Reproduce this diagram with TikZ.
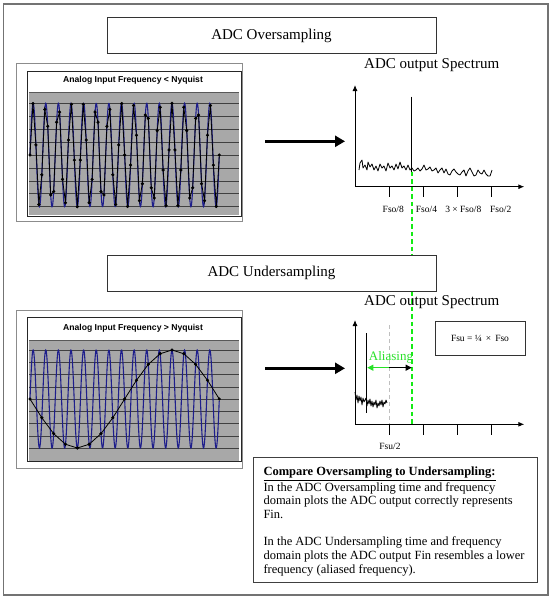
\documentclass[tikz,border=0pt]{standalone}
\usepackage{fontspec}
\setmainfont{Liberation Serif}
\newfontfamily\chartfont{Liberation Sans}
\usetikzlibrary{arrows.meta}
\definecolor{plotgray}{RGB}{168,168,168}
\definecolor{wavenavy}{RGB}{30,30,140}
\definecolor{aliasgreen}{RGB}{40,225,40}
\definecolor{dashgreen}{RGB}{20,235,20}
\begin{document}
\begin{tikzpicture}[x=1pt,y=-1pt,
  titlebox/.style={draw=black!80, fill=white, line width=0.9pt, minimum width=329pt, minimum height=36pt, inner sep=0pt, font=\fontsize{15}{18}\selectfont},
  spectitle/.style={inner sep=0pt, font=\fontsize{15}{18}\selectfont},
  charttitle/.style={inner sep=0pt, font=\chartfont\bfseries\fontsize{8.6}{10}\selectfont},
  outerframe/.style={draw=black!45, line width=0.8pt},
  innerframe/.style={draw=black!85, line width=0.8pt},
  gridline/.style={draw=black!75, line width=0.7pt},
  wave/.style={draw=wavenavy, line width=1.1pt},
  samp/.style={draw=black, line width=0.8pt},
  axisline/.style={draw=black, line width=0.9pt, -{Latex[length=6pt,width=5pt]}},
  tickline/.style={draw=black, line width=0.9pt},
  ticklabel/.style={inner sep=0pt, font=\fontsize{9.5}{11}\selectfont},
  noise/.style={draw=black, line width=0.8pt, line join=round},
  bigarrow/.style={draw=black, line width=3pt, -{Triangle[length=10pt,width=11pt]}},
  greendash/.style={draw=dashgreen, line width=1.6pt, dash pattern=on 4.5pt off 3pt},
  graydash/.style={draw=black!25, line width=0.9pt, dash pattern=on 4pt off 3pt},
  smallbox/.style={draw=black!80, line width=0.9pt, minimum width=90pt, minimum height=34pt, inner sep=0pt, font=\fontsize{9.5}{11}\selectfont},
  textbox/.style={draw=black!75, line width=1.1pt, minimum width=284pt, minimum height=125pt, inner sep=0pt},
  bodytext/.style={inner sep=0pt, align=left, font=\fontsize{12.5}{13.7}\selectfont}
]
\useasboundingbox (0,0) rectangle (552,600);

% outer frame
\draw[black!55, line width=1.2pt] (3.5,4) rectangle (548,595);

% green dashed alias line (behind title box)
\coordinate (gtop) at (411.7,171.7);
\coordinate (gbot) at (411.7,424.3);
\draw[greendash] (gtop) -- (gbot);

% title boxes
\node[titlebox] (t1) at (271.5,35.5) {ADC Oversampling};
\node[titlebox] (t2) at (271.5,273) {ADC Undersampling};

% ---------- chart 1 ----------
\draw[outerframe] (16,63) rectangle (242.5,221);
\draw[innerframe] (27,71) rectangle (241,216);
\fill[plotgray] (29,92) rectangle (239,215.2);
\draw[black!65, line width=0.7pt] (29,92) -- (239,92);
\foreach \g in {0,...,8} \draw[gridline] (29,103.5+12.9*\g) -- (239,103.5+12.9*\g);
\node[charttitle] (ct1) at (133,80) {Analog Input Frequency < Nyquist};
\draw[wave] plot[domain=0:1, samples=600] ({30+189.3*\x},{155-51.7*sin(5400*\x)});
\draw[samp] plot[domain=0:1, samples=65] ({30+189.3*\x},{155-51.7*sin(5400*\x)});
\draw[black] plot[domain=0:1, samples=65, only marks, mark=*, mark size=1.4pt] ({30+189.3*\x},{155-51.7*sin(5400*\x)});

% ---------- chart 2 ----------
\draw[outerframe] (16,310.7) rectangle (242.5,468);
\draw[innerframe] (27,317.7) rectangle (241,461.7);
\fill[plotgray] (29,340) rectangle (239,460.5);
\draw[black!65, line width=0.7pt] (29,340) -- (239,340);
\foreach \g in {0,...,8} \draw[gridline] (29,350+12.29*\g) -- (239,350+12.29*\g);
\node[charttitle] (ct2) at (133,328.3) {Analog Input Frequency > Nyquist};
\draw[wave] plot[domain=0:1, samples=600] ({30+189.3*\x},{399-49*sin(5400*\x)});
\draw[samp] plot[domain=0:1, samples=17] ({30+189.3*\x},{399-49*sin(5400*\x)});
\draw[black] plot[domain=0:1, samples=17, only marks, mark=*, mark size=1.4pt] ({30+189.3*\x},{399-49*sin(5400*\x)});

% ---------- big arrows ----------
\coordinate (a1s) at (265,141.3);
\coordinate (a1e) at (345,141.3);
\draw[bigarrow] (a1s) -- (a1e);
\coordinate (a2s) at (265,368.3);
\coordinate (a2e) at (345,368.3);
\draw[bigarrow] (a2s) -- (a2e);

% ---------- spectrum 1 ----------
\node[spectitle] (s1) at (431.7,65) {ADC output Spectrum};
\coordinate (o1) at (355,186.7);
\coordinate (y1) at (355,85);
\coordinate (x1) at (524.3,186.7);
\draw[axisline] (o1) -- (y1);
\draw[axisline] (o1) -- (x1);
\foreach \tx in {389.3,423.3,457.3,491.7} \draw[tickline] (\tx,186.7) -- (\tx,197.3);
\node[ticklabel] (l1) at (393.3,209.3) {Fso/8};
\node[ticklabel] (l2) at (426.5,209.3) {Fso/4};
\node[ticklabel] (l3) at (463.3,209.3) {3 × Fso/8};
\node[ticklabel] (l4) at (500.7,209.3) {Fso/2};
\coordinate (sig1t) at (411.7,96.7);
\draw[black, line width=0.9pt] (sig1t) -- (gtop);
\draw[noise] plot coordinates {(359,170) (360,163) (362,160) (363,168) (365,165) (367,170) (368,162) (370,167) (372,164) (374,170) (376,166) (378,171) (380,164) (382,168) (384,166) (386,171) (388,163) (390,168) (392,166) (394,170) (396,164) (398,169) (400,162) (402,168) (404,166) (406,170) (408,165) (410,170) (412,168) (414,171) (416,170) (418,168) (420,171) (422,169) (424,165) (426,170) (428,169) (430,167) (432,171) (434,170) (436,168) (438,173) (440,170) (442,168) (444,173) (446,169) (448,174) (450,175) (452,171) (454,169) (456,172) (458,174) (460,175) (462,172) (464,170) (466,176) (468,171) (470,168) (472,172) (474,176) (476,175) (478,170) (480,173) (482,174) (484,170) (486,174) (488,176) (490,176) (491,173) (492,170)};

% ---------- spectrum 2 ----------
\node[spectitle] (s2) at (431.7,301.7) {ADC output Spectrum};
\coordinate (o2) at (355,424.3);
\coordinate (y2) at (355,320);
\coordinate (x2) at (524.3,424.3);
\draw[axisline] (o2) -- (y2);
\draw[axisline] (o2) -- (x2);
\foreach \tx in {389.3,423.3,457.3,491.7} \draw[tickline] (\tx,424.3) -- (\tx,435);
\node[ticklabel] (l5) at (390,446.7) {Fsu/2};
\coordinate (gdt) at (389.3,325);
\coordinate (gdb) at (389.3,424.3);
\draw[graydash] (gdt) -- (gdb);
\coordinate (sig2t) at (366.7,333.3);
\coordinate (sig2b) at (366.7,413.3);
\draw[black, line width=0.9pt] (sig2t) -- (sig2b);
\draw[noise] plot coordinates {(355,392) (356,400) (357,395) (358,403) (359,396) (360,401) (361,397) (362,405) (363,398) (364,402) (366,398) (367,406) (368,400) (369,404) (370,399) (371,406) (372,401) (373,407) (374,402) (375,405) (376,400) (377,408) (378,403) (379,406) (380,401) (381,405) (382,400) (383,407) (384,402) (385,404) (386,400) (387,403)};
\coordinate (am) at (389.3,367.7);
\coordinate (al) at (367.3,367.7);
\coordinate (ar) at (411.7,367.7);
\draw[draw=aliasgreen, line width=1.1pt, -{Triangle[length=6pt,width=6pt]}] (am) -- (al);
\draw[draw=black, line width=1.1pt, -{Triangle[length=6pt,width=6pt]}] (am) -- (ar);
\node[inner sep=0pt, text=aliasgreen, font=\fontsize{13}{15}\selectfont] (alias) at (391,357) {Aliasing};
\node[smallbox] (fsu) at (480,338.9) {Fsu = ¼ \,×\, Fso};

% ---------- text box ----------
\node[textbox] (tb) at (395.3,520.2) {};
\node[bodytext, anchor=north west] (tbt) at (263.3,467) {\textbf{\underline{Compare Oversampling to Undersampling:}}\\[1.5pt]
In the ADC Oversampling time and frequency\\
domain plots the ADC output correctly represents\\
Fin.\\[13.7pt]
In the ADC Undersampling time and frequency\\
domain plots the ADC output Fin resembles a lower\\
frequency (aliased frequency).};
\end{tikzpicture}
\end{document}
